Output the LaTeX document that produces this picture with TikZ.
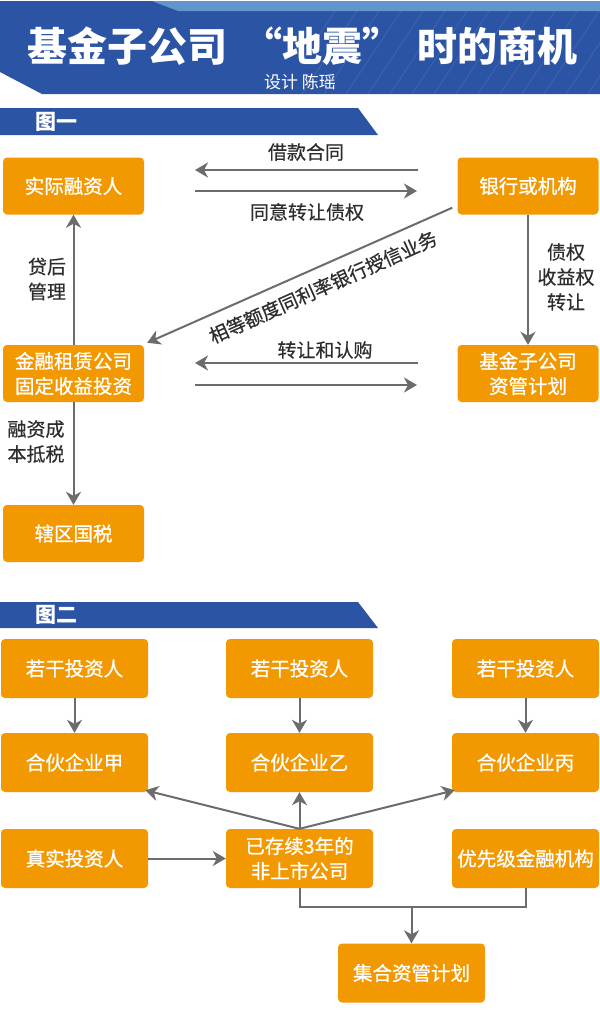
\documentclass[tikz,border=0pt]{standalone}
\usepackage{fontspec}
\newfontfamily\cjk{Noto Sans CJK SC}
\newfontfamily\cjkm{Noto Sans CJK SC}[FakeBold=0.9]
\newfontfamily\cjkl{Noto Sans CJK SC}[FakeBold=0.5]
\usetikzlibrary{arrows.meta}
\definecolor{boxorange}{RGB}{242,152,0}
\definecolor{bannerblue}{RGB}{43,84,164}
\definecolor{stripblue}{RGB}{96,150,205}
\definecolor{arrowgray}{RGB}{108,108,108}
\definecolor{labelgray}{RGB}{45,45,45}
\begin{document}
\begin{tikzpicture}[x=1pt,y=-1pt,
  box/.style={fill=boxorange, rounded corners=4pt, text=white,
    font=\cjkm\fontsize{19.5}{25}\selectfont, align=center, inner sep=0pt},
  boxA/.style={box, minimum width=141pt, minimum height=57pt},
  boxB/.style={box, minimum width=147pt, minimum height=59pt},
  lbl/.style={text=labelgray, font=\cjkl\fontsize{19}{25}\selectfont, align=center, inner sep=0pt},
  arr/.style={draw=arrowgray, line width=2pt, -{Stealth[length=13pt,width=15pt,inset=4pt]}},
  ln/.style={draw=arrowgray, line width=2pt},
  secbar/.style={fill=bannerblue},
  sectxt/.style={text=white, font=\cjk\bfseries\fontsize{21}{25}\selectfont, inner sep=0pt, anchor=west}]
\useasboundingbox (0,0) rectangle (600,1010);
\fill[white] (0,0) rectangle (600,1010);
% header banner
\fill[bannerblue] (0,1) -- (600,1) -- (600,94) -- (42,94) -- (0,72) -- cycle;
\fill[stripblue] (152,1) -- (600,1) -- (600,11) -- (178,11) -- cycle;
\begin{scope}
  \clip (300,11) rectangle (600,94);
  \foreach \i in {0,...,16}
    \draw[white, opacity=0.12, line width=0.6pt] (280+\i*22,94) -- ++(55,-83);
\end{scope}
\node[text=white, font=\cjk\bfseries\fontsize{40}{44}\selectfont, inner sep=0pt] (title) at (302.5,46)
  {基金子公司\makebox[55pt][r]{“}地震\makebox[55pt][l]{”}时的商机};
\node[text=white, font=\cjk\fontsize{17}{20}\selectfont, inner sep=0pt] (sub) at (300,82) {设计 陈瑶};
% section bars
\fill[secbar] (0,108) -- (358,108) -- (378,135) -- (0,135) -- cycle;
\node[sectxt] (sec1) at (35,122) {图一};
\fill[secbar] (0,602) -- (358,602) -- (378,628) -- (0,628) -- cycle;
\node[sectxt] (sec2) at (35,615) {图二};
% figure 1 boxes
\node[boxA] (borrower) at (73.5,186) {实际融资人};
\node[boxA] (bank) at (528,186) {银行或机构};
\node[boxA] (lessor) at (73.5,373.5) {金融租赁公司\\固定收益投资};
\node[boxA] (fund) at (528,373.5) {基金子公司\\资管计划};
\node[boxA] (tax) at (73.5,533.5) {辖区国税};
% floating arrow ends
\coordinate (l1s) at (418,170); \coordinate (l1e) at (195,170);
\coordinate (r1s) at (195,191); \coordinate (r1e) at (417,191);
\coordinate (l2s) at (418,363); \coordinate (l2e) at (195,363);
\coordinate (r2s) at (195,385); \coordinate (r2e) at (417,385);
\draw[arr] (l1s) -- (l1e);
\draw[arr] (r1s) -- (r1e);
\draw[arr] (l2s) -- (l2e);
\draw[arr] (r2s) -- (r2e);
\draw[arr] (lessor) -- (borrower);
\draw[arr] (bank) -- (fund);
\draw[arr] (lessor) -- (tax);
\draw[arr] ([shift={(-5,-7)}]bank.south west) -- ([shift={(3,-2)}]lessor.north east);
% figure 1 labels
\node[lbl] (t1) at (306,152) {借款合同};
\node[lbl] (t2) at (307,212) {同意转让债权};
\node[lbl] (t3) at (325,350) {转让和认购};
\node[lbl] (t4) at (47,279) {贷后\\管理};
\node[lbl] (t5) at (36,441.5) {融资成\\本抵税};
\node[lbl] (t6) at (566,277) {债权\\收益权\\转让};
\node[lbl, rotate=24] (t7) at (323,287) {相等额度同利率银行授信业务};
% figure 2 boxes
\node[boxB] (inv1) at (74.5,668.5) {若干投资人};
\node[boxB] (inv2) at (299.5,668.5) {若干投资人};
\node[boxB] (inv3) at (525.5,668.5) {若干投资人};
\node[boxB] (pA) at (74.5,762.5) {合伙企业甲};
\node[boxB] (pB) at (299.5,762.5) {合伙企业乙};
\node[boxB] (pC) at (525.5,762.5) {合伙企业丙};
\node[boxB] (real) at (74.5,858.5) {真实投资人};
\node[boxB] (co) at (299.5,858.5) {已存续3年的\\非上市公司};
\node[boxB] (pri) at (525.5,858.5) {优先级金融机构};
\node[boxB] (plan) at (411.5,973) {集合资管计划};
% figure 2 connectors
\draw[arr] (inv1) -- (pA);
\draw[arr] (inv2) -- (pB);
\draw[arr] (inv3) -- (pC);
\draw[arr] (co.north) -- ([shift={(-3,-2)}]pA.south east);
\draw[arr] (co.north) -- (pB.south);
\draw[arr] (co.north) -- ([shift={(3,-2)}]pC.south west);
\draw[arr] (real) -- (co);
\coordinate (j) at (411.5,907);
\draw[ln] (co.south) |- (j) -| (pri.south);
\draw[arr] (j) -- (plan.north);
\end{tikzpicture}
\end{document}
